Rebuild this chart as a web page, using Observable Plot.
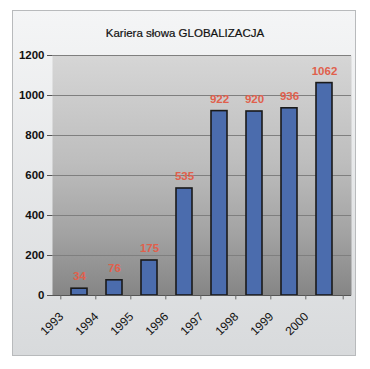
<!DOCTYPE html>
<html>
<head>
<meta charset="utf-8">
<script src="https://cdn.jsdelivr.net/npm/d3@7"></script>
<script src="https://cdn.jsdelivr.net/npm/@observablehq/plot@0.6"></script>
<style>
  html, body { margin: 0; padding: 0; background: #ffffff; }
  #wrap { position: relative; width: 370px; height: 369px; overflow: hidden; font-family: "Liberation Sans", Arial, sans-serif; }
  #frame { position: absolute; left: 12px; top: 10px; width: 344px; height: 346px; border: 1px solid #b8babc;
           background: linear-gradient(#f4f5f6, #d8dadc); box-sizing: border-box; }
  #title { position: absolute; left: 0; width: 370px; top: 27px; text-align: center; font-size: 11.5px; color: #111; -webkit-text-stroke: 0.2px #111; }
  #chart { position: absolute; left: 0; top: 0; }
</style>
</head>
<body>
<div id="wrap">
  <div id="frame"></div>
  <div id="title">Kariera słowa GLOBALIZACJA</div>
  <div id="chart"></div>
</div>
<script>
const years = ["1993", "1994", "1995", "1996", "1997", "1998", "1999", "2000"];
const counts = [34, 76, 175, 535, 922, 920, 936, 1062];
const yTicks = [0, 200, 400, 600, 800, 1000, 1200];

const data = years.map((y, i) => ({year: y, value: counts[i]}));
const step = (351 - 52) / years.length;

const plot = Plot.plot({
  width: 370,
  height: 369,
  marginLeft: 52,
  marginRight: 19,
  marginTop: 55,
  marginBottom: 74,
  style: {background: "transparent", fontFamily: "Liberation Sans, Arial, sans-serif", overflow: "visible"},
  x: {domain: years, padding: 0.54, label: null},
  y: {domain: [0, 1200], label: null},
  marks: [
    Plot.frame({fill: "url(#plotgrad)", stroke: null}),
    Plot.gridY(yTicks, {stroke: "#7f7f7f", strokeOpacity: 1, strokeWidth: 1}),
    Plot.axisY(yTicks, {tickSize: 5, tickPadding: 3, tickFormat: d => String(d), fontSize: 11.5, fontWeight: "bold", fill: "#111", stroke: "#555", label: null}),
    Plot.ruleX([0], {frameAnchor: "left", stroke: "#666"}),
    Plot.barY(data, {x: "year", y: "value", fill: "#4b6cad", stroke: "#1a1a1a", strokeWidth: 1.6}),
    Plot.text(data, {x: "year", y: "value", text: d => String(d.value), dy: -12, fill: "#e0604c", fontWeight: "bold", fontSize: 11.5}),
    Plot.ruleY([0], {stroke: "#555"}),
    Plot.ruleX(years, {x: d => d, y1: 0, y2: -22, dx: -step / 2, stroke: "#666"}),
    Plot.ruleX([years[years.length - 1]], {x: d => d, y1: 0, y2: -22, dx: step / 2, stroke: "#666"}),
    Plot.axisX({tickSize: 0, tickRotate: -45, tickPadding: 10, dx: -18, dy: 9, fontSize: 12, fill: "#111", label: null})
  ]
});

const ns = "http://www.w3.org/2000/svg";
const defs = document.createElementNS(ns, "defs");
defs.innerHTML = `<linearGradient id="plotgrad" x1="0" y1="0" x2="0" y2="1">
  <stop offset="0%" stop-color="#d6d6d6"/>
  <stop offset="45%" stop-color="#bdbdbd"/>
  <stop offset="75%" stop-color="#a2a2a2"/>
  <stop offset="100%" stop-color="#858585"/>
</linearGradient>`;
plot.insertBefore(defs, plot.firstChild);
document.getElementById("chart").appendChild(plot);
</script>
</body>
</html>
